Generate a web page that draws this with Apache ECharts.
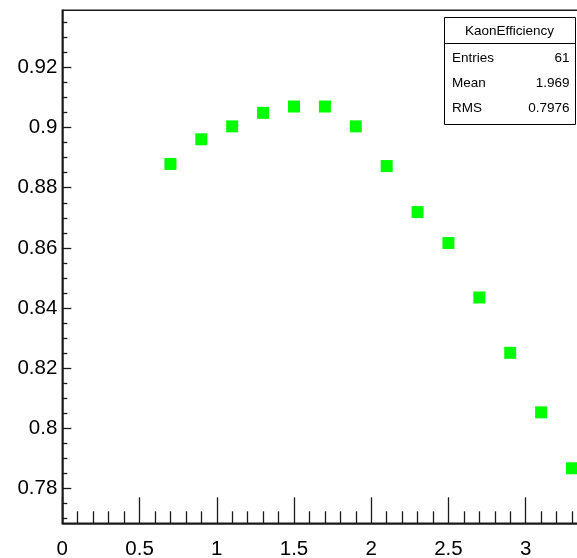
<!DOCTYPE html>
<html><head><meta charset="utf-8">
<script src="https://cdn.jsdelivr.net/npm/echarts@6/dist/echarts.min.js"></script>
<style>html,body{margin:0;padding:0;background:#fff}#c{width:577px;height:558px}</style>
</head><body><div id="c"></div>
<script>
// ---- data ----
const xValues = [0.7, 0.9, 1.1, 1.3, 1.5, 1.7, 1.9, 2.1, 2.3, 2.5, 2.7, 2.9, 3.1, 3.3];
const efficiency = [0.8879, 0.8961, 0.9004, 0.9049, 0.9070, 0.9070, 0.9004, 0.8872, 0.8719, 0.8616, 0.8435, 0.8251, 0.8053, 0.7867];
const yTickLabels = [0.78, 0.80, 0.82, 0.84, 0.86, 0.88, 0.90, 0.92];
const yMinorTicks = [0.77, 0.775, 0.785, 0.79, 0.795, 0.805, 0.81, 0.815, 0.825, 0.83, 0.835, 0.845, 0.85, 0.855, 0.865, 0.87, 0.875, 0.885, 0.89, 0.895, 0.905, 0.91, 0.915, 0.925, 0.93, 0.935];
const statsTitle = 'KaonEfficiency';
const statsNames = ['Entries', 'Mean', 'RMS'];
const statsValues = ['61', '1.969', '0.7976'];

const yMin = 0.7684, yMax = 0.939;
const FONT = 'Liberation Sans, Arial, Helvetica, sans-serif';
const ink = '#1a1a1a';

const chart = echarts.init(document.getElementById('c'), null, {renderer: 'canvas'});

const statsGraphic = [];
const boxL = 444, boxT = 17, boxW = 131, boxH = 107;
const rowY = [58.5, 83, 108];
statsGraphic.push({type: 'rect', left: boxL, top: boxT, shape: {width: boxW, height: boxH}, style: {fill: '#fff', stroke: '#000', lineWidth: 1}, z: 100});
statsGraphic.push({type: 'line', shape: {x1: boxL, y1: 43.5, x2: boxL + boxW, y2: 43.5}, style: {stroke: '#000', lineWidth: 1}, z: 101});
statsGraphic.push({type: 'text', x: boxL + boxW / 2, y: 31, style: {text: statsTitle, fill: '#000', font: '13.5px ' + FONT, align: 'center', verticalAlign: 'middle'}, z: 101});
statsNames.forEach((n, i) => {
  statsGraphic.push({type: 'text', x: boxL + 8, y: rowY[i], style: {text: n, fill: '#000', font: '13.5px ' + FONT, align: 'left', verticalAlign: 'middle'}, z: 101});
  statsGraphic.push({type: 'text', x: boxL + boxW - 5.5, y: rowY[i], style: {text: statsValues[i], fill: '#000', font: '13.5px ' + FONT, align: 'right', verticalAlign: 'middle'}, z: 101});
});

chart.setOption({
  animation: false,
  backgroundColor: '#fff',
  grid: {left: 62.3, top: 10.3, width: 540.6, bottom: 34.7, outerBoundsMode: 'none', containLabel: false, show: true, borderColor: ink, borderWidth: 1.5, backgroundColor: 'transparent'},
  xAxis: {
    type: 'value', min: 0, max: 3.5, interval: 0.5,
    axisLine: {show: true, onZero: false, lineStyle: {color: ink, width: 1.5}},
    axisTick: {show: true, inside: true, length: 26, lineStyle: {color: ink, width: 1.3}},
    minorTick: {show: true, splitNumber: 5, length: 12, lineStyle: {color: ink, width: 1.3}},
    axisLabel: {color: '#000', fontSize: 20.5, fontFamily: FONT, margin: 16},
    splitLine: {show: false}, minorSplitLine: {show: false}
  },
  yAxis: [{
    type: 'value', min: yMin, max: yMax, position: 'left',
    axisLine: {show: true, onZero: false, lineStyle: {color: ink, width: 1.5}},
    axisTick: {show: true, inside: true, length: 9, customValues: yTickLabels, lineStyle: {color: ink, width: 1.3}},
    axisLabel: {color: '#000', fontSize: 20.5, fontFamily: FONT, margin: 5, customValues: yTickLabels, showMinLabel: true, showMaxLabel: true},
    splitLine: {show: false}
  }, {
    type: 'value', min: yMin, max: yMax, position: 'left', offset: 0,
    axisLine: {show: false},
    axisTick: {show: true, inside: true, length: 5, customValues: yMinorTicks, lineStyle: {color: ink, width: 1.3}},
    axisLabel: {show: false},
    splitLine: {show: false}
  }],
  series: [{
    type: 'scatter',
    data: xValues.map((x, i) => [x, efficiency[i]]),
    symbol: 'rect', symbolSize: 12,
    itemStyle: {color: '#00ff00', opacity: 1},
    z: 5
  }],
  graphic: statsGraphic
});
</script>
</body></html>
